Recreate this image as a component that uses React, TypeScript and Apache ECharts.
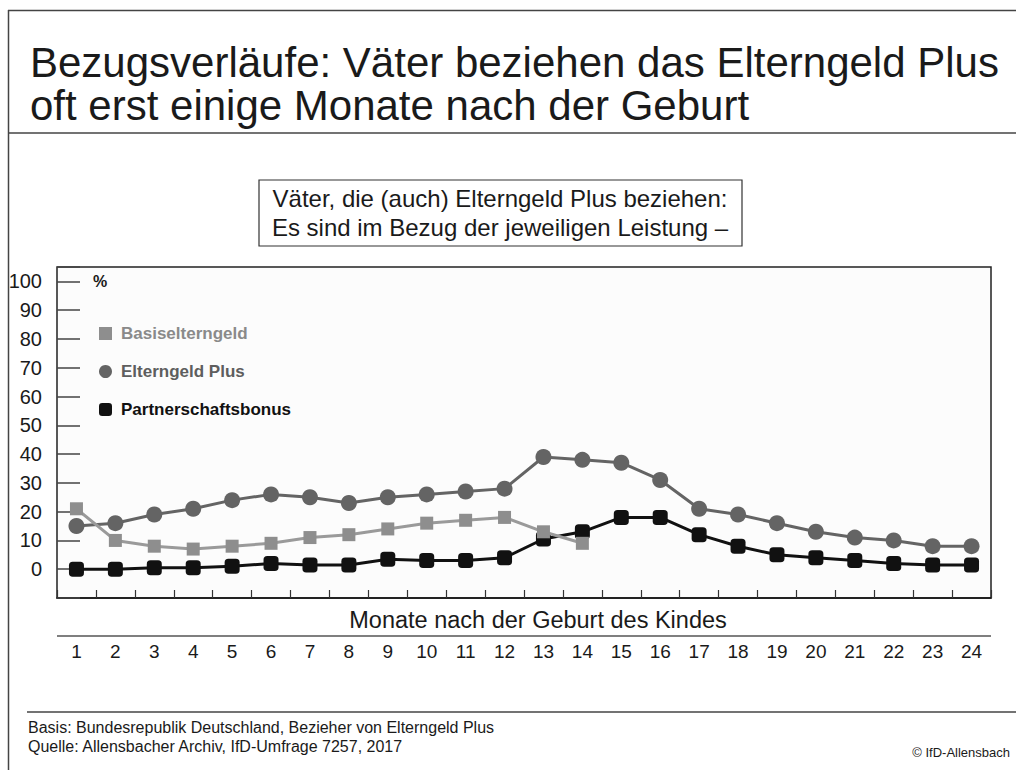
import React, { useEffect, useRef } from "react";
import * as echarts from "echarts";

const months = ["1","2","3","4","5","6","7","8","9","10","11","12","13","14","15","16","17","18","19","20","21","22","23","24"];
const basisElterngeld = [21, 10, 8, 7, 8, 9, 11, 12, 14, 16, 17, 18, 13, 9];
const elterngeldPlus = [15, 16, 19, 21, 24, 26, 25, 23, 25, 26, 27, 28, 39, 38, 37, 31, 21, 19, 16, 13, 11, 10, 8, 8];
const partnerschaftsbonus = [0, 0, 0.5, 0.5, 1, 2, 1.5, 1.5, 3.5, 3, 3, 4, 10.5, 13, 18, 18, 12, 8, 5, 4, 3, 2, 1.5, 1.5];
const seriesNames = ["Basiselterngeld", "Elterngeld Plus", "Partnerschaftsbonus"];
const titleLines = ["Bezugsverläufe: Väter beziehen das Elterngeld Plus", "oft erst einige Monate nach der Geburt"];
const subtitleLines = ["Väter, die (auch) Elterngeld Plus beziehen:", "Es sind im Bezug der jeweiligen Leistung –"];
const xAxisTitle = "Monate nach der Geburt des Kindes";
const footerLines = ["Basis: Bundesrepublik Deutschland, Bezieher von Elterngeld Plus", "Quelle: Allensbacher Archiv, IfD-Umfrage 7257, 2017"];
const copyright = "© IfD-Allensbach";

const FONT = "'Liberation Sans', Arial, sans-serif";
const C_BASIS = "#8e8e8e";
const C_EP = "#646464";
const C_PB = "#111111";

export default function App() {
  const ref = useRef<HTMLDivElement>(null);
  useEffect(() => {
    if (!ref.current) return;
    const chart = echarts.init(ref.current, null, { renderer: "svg" });
    const line = (x1: number, y1: number, x2: number, y2: number, color: string, w: number) => ({
      type: "line",
      shape: { x1, y1, x2, y2 },
      style: { stroke: color, lineWidth: w },
      silent: true,
    });
    const text = (t: string, x: number, y: number, size: number, opts: any = {}) => ({
      type: "text",
      x,
      y,
      style: {
        text: t,
        fontSize: size,
        fontFamily: FONT,
        fill: opts.fill || "#1a1a1a",
        fontWeight: opts.weight || "normal",
        align: opts.align || "left",
        verticalAlign: "middle",
      },
      silent: true,
    });
    chart.setOption({
      animation: false,
      backgroundColor: "#ffffff",
      textStyle: { fontFamily: FONT },
      grid: {
        left: 57,
        right: 25,
        top: 267,
        bottom: 172,
        show: true,
        backgroundColor: "#fcfcfc",
        borderColor: "#222",
        borderWidth: 1.5,
        containLabel: false,
        outerBoundsMode: "none",
      },
      legend: {
        orient: "vertical",
        left: 94,
        top: 320,
        itemWidth: 13,
        itemHeight: 13,
        itemGap: 21,
        selectedMode: false,
        textStyle: { fontSize: 17, fontWeight: "bold", fontFamily: FONT, padding: [0, 0, 0, 4] },
        data: [
          { name: seriesNames[0], icon: "rect", itemStyle: { color: C_BASIS }, textStyle: { color: "#8a8a8a" } },
          { name: seriesNames[1], icon: "circle", itemStyle: { color: C_EP }, textStyle: { color: "#5e5e5e" } },
          { name: seriesNames[2], icon: "roundRect", itemStyle: { color: C_PB }, textStyle: { color: "#111" } },
        ],
      },
      xAxis: {
        type: "category",
        data: months,
        boundaryGap: true,
        axisLine: { show: true, onZero: false, lineStyle: { color: "#111", width: 1.5 } },
        axisTick: { show: true, inside: true, length: 8, lineStyle: { color: "#333", width: 1.2 } },
        axisLabel: { margin: 44, fontSize: 19, color: "#1a1a1a", fontFamily: FONT },
        splitLine: { show: false },
      },
      yAxis: {
        type: "value",
        min: -10,
        max: 105,
        interval: 10,
        axisLine: { show: false },
        axisTick: { show: true, inside: true, length: 23, lineStyle: { color: "#444", width: 1.5 } },
        axisLabel: {
          margin: 15,
          fontSize: 20,
          color: "#1a1a1a",
          fontFamily: FONT,
          formatter: (v: number) => (v >= 0 && v <= 100 ? String(v) : ""),
        },
        splitLine: { show: false },
      },
      series: [
        {
          name: seriesNames[0],
          type: "line",
          data: basisElterngeld,
          symbol: "rect",
          symbolSize: 13,
          z: 4,
          itemStyle: { color: C_BASIS },
          lineStyle: { color: "#9a9a9a", width: 3 },
        },
        {
          name: seriesNames[1],
          type: "line",
          data: elterngeldPlus,
          symbol: "circle",
          symbolSize: 16,
          z: 2,
          itemStyle: { color: C_EP },
          lineStyle: { color: C_EP, width: 3 },
        },
        {
          name: seriesNames[2],
          type: "line",
          data: partnerschaftsbonus,
          symbol: "roundRect",
          symbolSize: 15,
          z: 3,
          itemStyle: { color: C_PB },
          lineStyle: { color: C_PB, width: 3 },
        },
      ],
      graphic: [
        line(8.5, 10, 8.5, 770, "#444", 1.5),
        line(8, 10.5, 1016, 10.5, "#444", 1.5),
        text(titleLines[0], 30, 62, 42),
        text(titleLines[1], 30, 105, 42),
        line(8, 133, 1016, 133, "#444", 1.5),
        {
          type: "rect",
          shape: { x: 259, y: 180, width: 483, height: 66 },
          style: { fill: "#ffffff", stroke: "#333", lineWidth: 1.2 },
          silent: true,
        },
        text(subtitleLines[0], 500, 198, 24, { align: "center" }),
        text(subtitleLines[1], 500, 227, 24, { align: "center" }),
        text("%", 93, 281, 16, { weight: "bold" }),
        text(xAxisTitle, 538, 620, 23.5, { align: "center" }),
        line(57, 636, 991, 636, "#555", 1.5),
        line(27, 712, 1016, 712, "#444", 1.5),
        text(footerLines[0], 28, 727, 16),
        text(footerLines[1], 28, 746, 16),
        text(copyright, 1010, 752, 13, { align: "right" }),
      ],
    });
    return () => chart.dispose();
  }, []);
  return <div ref={ref} style={{ position: "fixed", left: 0, top: 0, width: 1016, height: 770 }} />;
}
